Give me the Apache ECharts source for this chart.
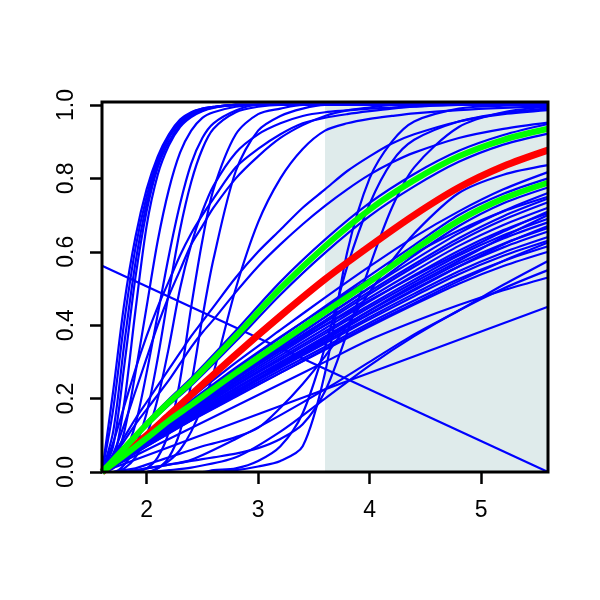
<!DOCTYPE html>
<html><head><meta charset="utf-8">
<script src="https://cdn.jsdelivr.net/npm/echarts@6/dist/echarts.min.js"></script>
<style>html,body{margin:0;padding:0;background:#fff}#c{width:600px;height:600px}</style>
</head><body><div id="c"></div><script>
// x grids
const xFine = [1.6,1.7,1.8,1.9,2.0,2.1,2.2,2.3,2.4,2.5,2.6,2.8,3.0,3.2,3.4,3.6,3.8,4.0,4.2,4.4,4.8,5.2,5.6];
const xCoarse = [1.6,1.8,2.0,2.2,2.4,2.8,3.2,3.6,4.0,4.4,4.8,5.2,5.6];
const xTicks = [2,3,4,5];
const yTicks = [0,0.2,0.4,0.6,0.8,1.0];
const shadeRange = [3.6, 5.6];

// blue curves on the fine grid
const steepCurves = [
  [0,.22,.46,.64,.77,.86,.92,.96,.98,.99,.995,1,1,1,1,1,1,1,1,1,1,1,1],
  [0,.17,.41,.61,.75,.85,.915,.955,.978,.99,.995,1,1,1,1,1,1,1,1,1,1,1,1],
  [0,.11,.35,.57,.73,.84,.91,.95,.975,.988,.994,1,1,1,1,1,1,1,1,1,1,1,1],
  [0,.07,.29,.53,.71,.83,.90,.945,.97,.985,.993,1,1,1,1,1,1,1,1,1,1,1,1],
  [0,.03,.19,.44,.67,.81,.89,.94,.967,.983,.992,1,1,1,1,1,1,1,1,1,1,1,1],
  [0,.02,.11,.27,.45,.63,.77,.87,.93,.965,.98,.995,1,1,1,1,1,1,1,1,1,1,1],
  [0,.01,.05,.13,.27,.43,.59,.73,.84,.91,.95,.985,1,1,1,1,1,1,1,1,1,1,1],
  [0,0,.02,.07,.16,.31,.49,.66,.79,.88,.935,.98,.995,1,1,1,1,1,1,1,1,1,1]
];
const mediumCurves = [
  [0,0,.01,.04,.10,.20,.34,.50,.62,.71,.78,.87,.92,.95,.97,.98,.985,.99,.993,.996,1,1,1],
  [0,0,0,0,.01,.04,.11,.25,.45,.63,.77,.92,.975,.99,1,1,1,1,1,1,1,1,1],
  [0,0,0,0,0,.01,.04,.11,.24,.42,.58,.82,.93,.97,.99,1,1,1,1,1,1,1,1],
  [0,0,0,0,0,.01,.03,.06,.11,.18,.27,.50,.68,.80,.88,.93,.95,.962,.97,.977,.986,.992,.996]
];
const concaveCurves = [
  [0,.05,.13,.22,.31,.40,.48,.55,.62,.67,.72,.80,.86,.91,.945,.97,.985,.993,1,1,1,1,1],
  [0,.08,.18,.28,.37,.45,.52,.59,.65,.70,.745,.83,.88,.92,.95,.965,.975,.983,.99,.995,1,1,1],
  [0,.04,.085,.13,.17,.21,.25,.295,.34,.38,.415,.49,.56,.62,.675,.725,.77,.81,.843,.87,.91,.935,.952],
  [0,.045,.095,.145,.19,.235,.28,.325,.37,.41,.45,.53,.60,.66,.72,.77,.82,.86,.895,.92,.955,.975,.986]
];
const lateCurves = [
  [0,0,0,0,0,0,0,0,0,0,0,.005,.015,.03,.07,.27,.60,.80,.90,.955,.99,.998,1],
  [0,0,0,0,0,0,0,0,0,0,.005,.01,.03,.07,.16,.34,.56,.73,.845,.905,.955,.978,.99],
  [0,0,.005,.01,.02,.03,.04,.05,.06,.07,.078,.095,.12,.175,.24,.315,.40,.49,.575,.65,.76,.81,.836],
  [0,0,0,.005,.01,.015,.02,.025,.03,.035,.04,.05,.065,.09,.13,.22,.38,.56,.72,.83,.94,.98,.995]
];
// blue fan curves on the coarse grid
const fanCurves = [
  [0,.052,.104,.155,.203,.298,.387,.475,.56,.64,.71,.77,.817],
  [0,.047,.096,.146,.19,.281,.366,.451,.535,.618,.70,.758,.80],
  [0,.043,.088,.134,.175,.26,.34,.422,.502,.59,.67,.732,.775],
  [0,.046,.091,.137,.179,.262,.342,.422,.502,.578,.650,.711,.76],
  [0,.05,.10,.148,.194,.284,.368,.448,.525,.595,.658,.71,.75],
  [0,.045,.089,.134,.175,.257,.335,.413,.492,.566,.637,.697,.745],
  [0,.044,.088,.132,.173,.254,.331,.408,.485,.559,.628,.687,.735],
  [0,.043,.086,.130,.169,.248,.324,.400,.475,.547,.616,.673,.72],
  [0,.045,.09,.133,.174,.254,.33,.40,.468,.533,.595,.655,.71],
  [0,.042,.085,.127,.166,.243,.317,.391,.465,.536,.603,.659,.705],
  [0,.034,.07,.106,.142,.215,.29,.365,.44,.51,.575,.64,.70],
  [0,.041,.083,.124,.162,.238,.311,.383,.455,.524,.590,.645,.69],
  [0,.041,.082,.122,.160,.235,.306,.377,.449,.517,.581,.636,.68],
  [0,.037,.074,.111,.147,.22,.29,.36,.43,.495,.56,.62,.67],
  [0,.040,.080,.120,.156,.229,.299,.369,.439,.505,.569,.622,.665],
  [0,.039,.079,.118,.154,.226,.295,.364,.432,.498,.560,.612,.655],
  [0,.038,.077,.115,.150,.221,.288,.355,.422,.486,.547,.598,.64],
  [0,.038,.076,.113,.148,.217,.284,.350,.416,.479,.539,.589,.63],
  [0,.035,.07,.105,.14,.205,.27,.335,.40,.46,.52,.575,.625],
  [0,.037,.074,.111,.145,.212,.277,.341,.406,.467,.526,.575,.615],
  [0,.036,.072,.108,.141,.207,.270,.333,.396,.456,.513,.561,.60],
  [0,.068,.136,.198,.256,.385,.518,.633,.733,.812,.875,.918,.948],
  [0,.062,.124,.182,.235,.356,.483,.597,.697,.778,.845,.892,.922],
  [0,0,.01,.02,.033,.09,.155,.225,.30,.375,.44,.51,.575],
  [0,0,0,.005,.012,.04,.11,.20,.29,.37,.44,.50,.55],
  [0,.03,.06,.09,.12,.18,.24,.30,.36,.41,.455,.495,.53]
];
// straight blue lines: [x0,y0,x1,y1]
const straightLines = [
  [1.6,0,5.6,0.45],
  [1.6,0.562,5.6,0]
];
// highlighted curves on the coarse grid
const redCurve = [0,.05,.10,.155,.21,.32,.425,.525,.615,.70,.775,.833,.877];
const greenUpper = [0,.065,.13,.19,.245,.37,.50,.615,.715,.795,.86,.905,.935];
const greenLower = [0,.045,.092,.14,.183,.27,.353,.436,.518,.605,.685,.745,.788];

const pairs = (xs, ys) => xs.map((x, i) => [x, ys[i]]);
const series = [];
series.push({
  type: 'custom', z: 1, silent: true,
  data: [[shadeRange[0], 0, shadeRange[1], 1.008]],
  renderItem: (params, api) => {
    const p0 = api.coord([api.value(0), api.value(1)]);
    const p1 = api.coord([api.value(2), api.value(3)]);
    return {type: 'rect', shape: {x: p0[0], y: p1[1], width: p1[0] - p0[0], height: p0[1] - p1[1]}, style: {fill: '#dfebeb'}};
  }
});
const blue = (data) => ({type: 'line', data, symbol: 'none', smooth: 0.3, z: 2, silent: true,
  lineStyle: {color: '#0000ff', width: 2.2}});
[...steepCurves, ...mediumCurves, ...concaveCurves, ...lateCurves].forEach(c => series.push(blue(pairs(xFine, c))));
fanCurves.forEach(c => series.push(blue(pairs(xCoarse, c))));
straightLines.forEach(l => series.push({...blue([[l[0], l[1]], [l[2], l[3]]]), smooth: false}));
series.push({type: 'line', data: pairs(xCoarse, redCurve), symbol: 'none', smooth: 0.3, z: 3, silent: true,
  lineStyle: {color: '#ff0000', width: 7}});
[greenUpper, greenLower].forEach(c => series.push({type: 'line', data: pairs(xCoarse, c), symbol: 'none', smooth: 0.3, z: 4, silent: true,
  lineStyle: {color: '#00ff00', width: 6}}));

const labelStyle = {fontFamily: 'Liberation Sans', fontSize: 23, color: '#000'};
const chart = echarts.init(document.getElementById('c'), null, {renderer: 'canvas'});
chart.setOption({
  animation: false,
  backgroundColor: '#fff',
  grid: {left: 102, right: 52, top: 102, bottom: 128, show: true, borderColor: '#000', borderWidth: 3, backgroundColor: 'transparent', z: 5},
  xAxis: {type: 'value', min: 1.6, max: 5.6,
    axisLine: {show: false}, splitLine: {show: false},
    axisTick: {show: true, length: 12, lineStyle: {color: '#000', width: 2.5}, customValues: xTicks},
    axisLabel: {fontFamily: labelStyle.fontFamily, fontSize: labelStyle.fontSize, color: labelStyle.color, margin: 27, customValues: xTicks, formatter: v => String(v)}},
  yAxis: {type: 'value', min: 0, max: 1.008,
    axisLine: {show: false}, splitLine: {show: false},
    axisTick: {show: true, length: 12, lineStyle: {color: '#000', width: 2.5}, customValues: yTicks},
    axisLabel: {fontFamily: labelStyle.fontFamily, fontSize: labelStyle.fontSize, color: labelStyle.color, margin: 24, rotate: 90, customValues: yTicks, formatter: v => v.toFixed(1)}},
  series
});
</script></body></html>
